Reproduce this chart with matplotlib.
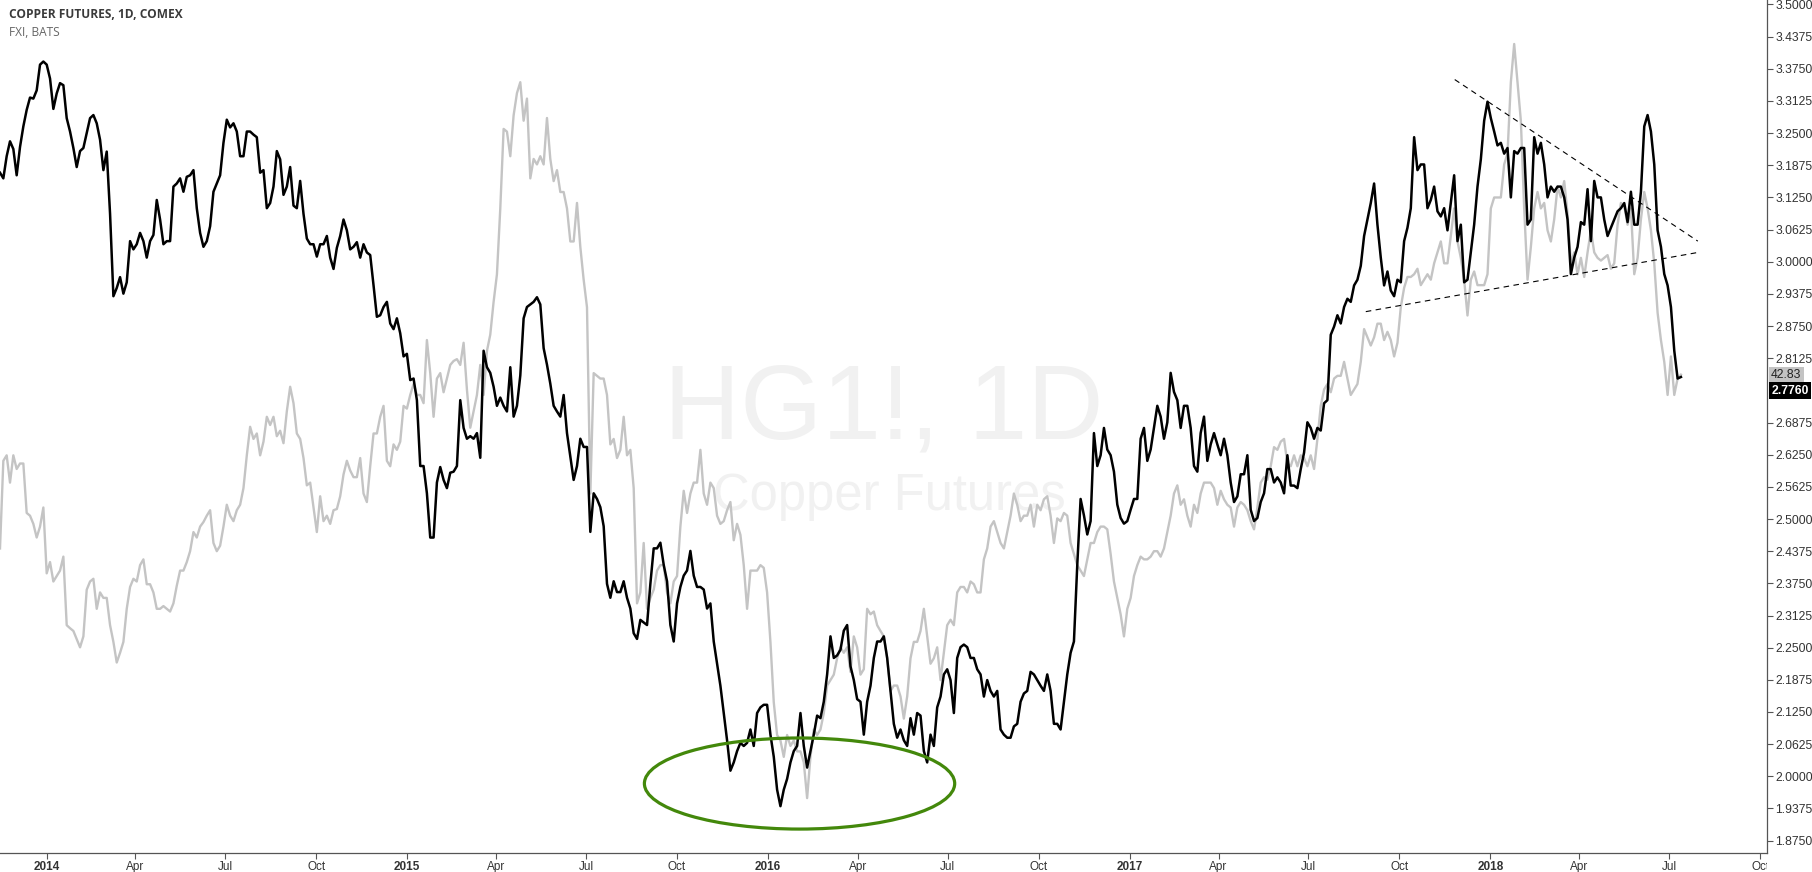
import numpy as np
import pandas as pd
import matplotlib
matplotlib.use("Agg")
import matplotlib.pyplot as plt
import matplotlib.dates as mdates
from matplotlib.patches import Ellipse
from matplotlib.transforms import Bbox, TransformedBbox, blended_transform_factory

plt.rcParams['font.family'] = ['Liberation Sans', 'DejaVu Sans']

# copper futures (HG1!), one value every 81 hours from the left edge of the chart
copper = [
    3.173, 3.162, 3.205, 3.234, 3.219, 3.168, 3.223, 3.263, 3.295, 3.319,
    3.317, 3.333, 3.383, 3.389, 3.383, 3.356, 3.297, 3.327, 3.347, 3.343,
    3.279, 3.253, 3.221, 3.184, 3.215, 3.221, 3.250, 3.279, 3.285, 3.269,
    3.237, 3.178, 3.214, 3.093, 2.933, 2.949, 2.970, 2.938, 2.960, 3.040,
    3.024, 3.034, 3.056, 3.040, 3.008, 3.040, 3.052, 3.120, 3.082, 3.034,
    3.040, 3.040, 3.146, 3.152, 3.162, 3.136, 3.165, 3.168, 3.178, 3.104,
    3.056, 3.029, 3.040, 3.069, 3.136, 3.152, 3.168, 3.231, 3.276, 3.261,
    3.269, 3.253, 3.205, 3.205, 3.253, 3.253, 3.247, 3.242, 3.173, 3.178,
    3.104, 3.114, 3.146, 3.215, 3.199, 3.130, 3.146, 3.184, 3.109, 3.104,
    3.157, 3.093, 3.045, 3.034, 3.034, 3.010, 3.034, 3.034, 3.050, 3.008,
    2.986, 3.027, 3.050, 3.082, 3.061, 3.024, 3.029, 3.038, 3.008, 3.034,
    3.018, 3.013, 2.954, 2.893, 2.896, 2.912, 2.922, 2.880, 2.869, 2.890,
    2.861, 2.816, 2.821, 2.770, 2.773, 2.731, 2.603, 2.603, 2.550, 2.464,
    2.464, 2.571, 2.601, 2.576, 2.560, 2.590, 2.592, 2.603, 2.731, 2.677,
    2.656, 2.661, 2.656, 2.667, 2.619, 2.827, 2.795, 2.784, 2.757, 2.720,
    2.736, 2.720, 2.709, 2.795, 2.699, 2.720, 2.779, 2.890, 2.912, 2.917,
    2.922, 2.931, 2.917, 2.832, 2.800, 2.763, 2.720, 2.709, 2.699, 2.741,
    2.667, 2.622, 2.576, 2.603, 2.656, 2.640, 2.640, 2.475, 2.550, 2.539,
    2.523, 2.486, 2.374, 2.347, 2.379, 2.358, 2.358, 2.379, 2.347, 2.326,
    2.278, 2.267, 2.304, 2.299, 2.294, 2.374, 2.443, 2.443, 2.454, 2.411,
    2.379, 2.294, 2.262, 2.336, 2.368, 2.390, 2.400, 2.438, 2.390, 2.368,
    2.368, 2.363, 2.326, 2.336, 2.262, 2.219, 2.176, 2.123, 2.070, 2.011,
    2.027, 2.049, 2.065, 2.059, 2.065, 2.091, 2.059, 2.123, 2.134, 2.139,
    2.139, 2.081, 2.038, 1.974, 1.942, 1.974, 1.995, 2.027, 2.049, 2.059,
    2.123, 2.059, 2.017, 2.049, 2.081, 2.118, 2.113, 2.145, 2.198, 2.272,
    2.230, 2.235, 2.246, 2.283, 2.294, 2.214, 2.187, 2.150, 2.145, 2.081,
    2.145, 2.176, 2.230, 2.262, 2.262, 2.272, 2.230, 2.166, 2.102, 2.075,
    2.091, 2.070, 2.059, 2.113, 2.081, 2.123, 2.118, 2.049, 2.027, 2.081,
    2.059, 2.134, 2.155, 2.198, 2.208, 2.187, 2.123, 2.230, 2.251, 2.256,
    2.251, 2.230, 2.230, 2.208, 2.198, 2.155, 2.187, 2.166, 2.155, 2.166,
    2.091, 2.081, 2.075, 2.075, 2.097, 2.102, 2.145, 2.161, 2.166, 2.203,
    2.198, 2.187, 2.176, 2.166, 2.198, 2.166, 2.102, 2.102, 2.091, 2.145,
    2.198, 2.240, 2.262, 2.411, 2.539, 2.507, 2.470, 2.496, 2.667, 2.603,
    2.624, 2.677, 2.635, 2.624, 2.592, 2.528, 2.502, 2.491, 2.496, 2.518,
    2.539, 2.539, 2.656, 2.677, 2.613, 2.635, 2.677, 2.720, 2.699, 2.656,
    2.688, 2.784, 2.747, 2.731, 2.677, 2.720, 2.720, 2.677, 2.603, 2.592,
    2.667, 2.699, 2.613, 2.645, 2.667, 2.645, 2.624, 2.656, 2.624, 2.571,
    2.533, 2.544, 2.587, 2.587, 2.624, 2.518, 2.496, 2.502, 2.533, 2.550,
    2.597, 2.597, 2.571, 2.581, 2.571, 2.550, 2.624, 2.565, 2.565, 2.560,
    2.597, 2.629, 2.688, 2.677, 2.656, 2.677, 2.672, 2.725, 2.731, 2.858,
    2.874, 2.896, 2.880, 2.912, 2.928, 2.922, 2.954, 2.965, 2.992, 3.050,
    3.082, 3.114, 3.152, 3.072, 3.008, 2.954, 2.981, 2.944, 2.933, 2.965,
    2.960, 3.040, 3.066, 3.104, 3.242, 3.178, 3.189, 3.189, 3.104, 3.120,
    3.146, 3.098, 3.088, 3.104, 3.061, 3.114, 3.168, 3.040, 3.072, 2.960,
    2.965, 3.018, 3.072, 3.146, 3.199, 3.274, 3.311, 3.279, 3.253, 3.226,
    3.231, 3.210, 3.221, 3.125, 3.215, 3.210, 3.221, 3.221, 3.072, 3.082,
    3.242, 3.210, 3.231, 3.189, 3.125, 3.146, 3.136, 3.146, 3.146, 3.125,
    3.082, 2.976, 3.008, 3.029, 3.077, 3.072, 3.141, 3.040, 3.157, 3.125,
    3.125, 3.082, 3.050, 3.066, 3.082, 3.098, 3.104, 3.114, 3.077, 3.136,
    3.072, 3.072, 3.136, 3.263, 3.285, 3.253, 3.189, 3.061, 3.029, 2.976,
    2.954, 2.912, 2.827, 2.773, 2.776,
]

# FXI (BATS), same spacing
fxi = [
    37.10, 39.99, 40.17, 39.27, 40.17, 39.72, 39.90, 39.90, 38.27, 38.18,
    37.91, 37.46, 37.82, 38.45, 36.28, 36.65, 36.01, 36.19, 36.37, 36.83,
    34.57, 34.47, 34.38, 34.11, 33.84, 34.20, 35.74, 36.01, 36.10, 35.11,
    35.65, 35.47, 35.47, 34.57, 34.02, 33.34, 33.66, 34.02, 35.11, 35.83,
    36.10, 36.01, 36.55, 36.74, 35.92, 35.92, 35.65, 35.11, 35.11, 35.20,
    35.11, 35.02, 35.29, 35.87, 36.37, 36.37, 36.65, 37.01, 37.64, 37.46,
    37.82, 37.97, 38.18, 38.36, 37.28, 37.01, 37.19, 37.82, 38.54, 38.18,
    38.00, 38.36, 38.54, 39.09, 40.17, 41.11, 40.71, 40.89, 40.17, 40.62,
    41.44, 41.17, 41.44, 40.80, 40.98, 40.57, 41.62, 42.43, 41.89, 40.89,
    40.71, 40.08, 39.18, 39.27, 38.45, 37.64, 38.82, 38.00, 38.18, 37.91,
    38.36, 38.40, 38.82, 39.54, 39.99, 39.67, 39.45, 39.45, 40.08, 38.91,
    38.63, 39.81, 40.89, 40.89, 41.44, 41.80, 39.99, 39.81, 40.53, 40.35,
    40.62, 41.80, 41.71, 42.16, 42.52, 42.16, 42.16, 41.89, 43.97, 42.88,
    41.44, 42.70, 42.88, 42.25, 42.70, 43.15, 43.28, 43.34, 43.15, 43.88,
    42.34, 41.08, 41.62, 42.16, 43.15, 42.16, 43.61, 44.15, 45.23, 46.14,
    48.31, 50.93, 50.84, 50.03, 51.38, 52.11, 52.47, 51.20, 51.93, 49.30,
    49.94, 49.76, 50.03, 49.76, 51.29, 49.94, 49.21, 49.57, 48.85, 48.85,
    48.31, 47.22, 47.22, 48.49, 47.04, 45.96, 45.05, 38.91, 42.88, 42.79,
    42.70, 42.70, 42.16, 40.53, 40.71, 40.08, 40.35, 41.44, 40.17, 40.35,
    39.09, 35.29, 35.65, 37.28, 35.11, 35.47, 35.74, 36.37, 36.55, 36.55,
    35.65, 35.29, 36.01, 36.19, 37.82, 39.00, 38.27, 38.91, 39.27, 39.27,
    40.35, 38.91, 38.54, 39.27, 39.09, 38.18, 37.91, 38.00, 38.36, 38.63,
    37.37, 37.91, 37.55, 36.55, 35.11, 36.37, 36.37, 36.37, 36.55, 36.46,
    35.65, 34.02, 32.03, 30.95, 30.77, 30.23, 30.95, 30.59, 30.77, 30.41,
    30.41, 30.05, 28.87, 30.23, 31.13, 30.95, 31.13, 31.67, 32.58, 32.76,
    32.94, 33.48, 33.84, 33.66, 33.84, 33.03, 34.20, 33.84, 32.94, 33.12,
    35.11, 34.93, 35.02, 34.57, 34.38, 34.20, 33.48, 32.40, 32.58, 32.58,
    32.22, 31.49, 32.22, 33.48, 34.02, 34.02, 34.38, 35.11, 34.20, 33.30,
    33.48, 33.84, 32.76, 33.66, 34.57, 34.75, 34.57, 35.65, 35.83, 35.83,
    35.65, 36.01, 35.92, 35.65, 35.65, 36.74, 37.10, 37.82, 38.00, 37.64,
    37.28, 37.10, 37.64, 38.18, 38.91, 38.54, 38.00, 38.18, 38.18, 38.54,
    37.82, 38.54, 38.36, 38.72, 38.82, 38.18, 37.28, 38.09, 38.00, 38.27,
    38.18, 37.28, 36.92, 36.55, 36.37, 36.19, 36.74, 37.28, 37.28, 37.64,
    37.82, 37.82, 37.73, 36.92, 36.01, 35.47, 34.93, 34.20, 35.11, 35.47,
    36.19, 36.55, 36.83, 36.74, 36.74, 36.83, 37.01, 37.01, 36.83, 37.10,
    37.64, 38.18, 38.91, 39.18, 38.54, 38.72, 38.18, 37.82, 38.54, 38.27,
    38.91, 39.27, 39.27, 39.27, 39.09, 38.54, 39.00, 38.72, 38.54, 38.45,
    37.82, 38.45, 38.63, 38.54, 38.36, 38.00, 37.73, 38.45, 39.27, 39.45,
    39.36, 39.81, 40.44, 40.35, 40.62, 40.71, 39.90, 39.81, 40.17, 39.81,
    40.17, 40.08, 39.81, 40.17, 39.72, 40.71, 41.80, 42.34, 42.52, 42.25,
    42.70, 42.79, 42.79, 43.25, 42.70, 42.16, 42.34, 42.52, 43.25, 44.33,
    44.06, 43.79, 44.06, 44.51, 44.51, 43.97, 44.24, 43.97, 43.43, 43.88,
    45.05, 45.69, 46.05, 46.05, 46.14, 46.32, 45.78, 45.96, 46.14, 45.96,
    46.50, 46.86, 47.22, 46.50, 46.50, 47.40, 48.31, 47.22, 46.68, 45.96,
    44.78, 45.96, 46.23, 45.78, 45.78, 45.78, 46.14, 48.31, 48.67, 48.67,
    48.67, 49.76, 50.12, 52.47, 53.73, 52.47, 51.20, 48.31, 45.96, 47.04,
    48.31, 48.85, 48.31, 48.49, 47.59, 47.22, 47.95, 49.03, 48.67, 49.21,
    48.13, 46.50, 46.86, 46.14, 46.68, 46.05, 46.86, 47.59, 46.86, 46.68,
    46.59, 46.68, 46.77, 46.32, 46.50, 47.77, 48.49, 48.40, 47.77, 48.31,
    46.14, 46.68, 47.95, 48.85, 48.31, 47.59, 46.50, 44.87, 43.97, 43.25,
    42.16, 43.43, 42.16, 42.70, 42.83,
]

series_start = "2013-11-14 22:00"
series_step = "81h"
view_start, view_end = "2013-11-14 22:00", "2018-10-08"

# trend lines drawn on the chart: (start date, price) -> (end date, price)
upper_line = [("2017-11-26", 3.354), ("2018-07-30", 3.040)]
lower_line = [("2017-08-28", 2.903), ("2018-07-30", 3.018)]
# highlighted area round the 2016 low
circle_center = ("2016-02-02", 1.986)
circle_days, circle_height = 314, 0.177

last_copper, last_fxi = "2.7760", "42.83"

cu_dates = pd.date_range(series_start, periods=len(copper), freq=series_step)
fx_dates = pd.date_range(series_start, periods=len(fxi), freq=series_step)

W, H = 1812, 872
fig = plt.figure(figsize=(W / 100, H / 100), dpi=100)
ax = fig.add_axes([0, 19 / H, 1767 / W, 853 / H])
ax2 = ax.twinx()

# watermark
ax.text(884 / 1767, (853 - 438) / 853, "HG1!, 1D", transform=ax.transAxes,
        ha="center", va="baseline", fontsize=76, color="#f1f1f1", zorder=0)
ax.text(889 / 1767, (853 - 510) / 853, "Copper Futures", transform=ax.transAxes,
        ha="center", va="baseline", fontsize=36.5, color="#f1f1f1", zorder=0)

ax.plot(fx_dates, fxi, color="#c4c4c4", lw=1.7, zorder=2)
ax2.plot(cu_dates, copper, color="black", lw=1.8, zorder=3)

for line in (upper_line, lower_line):
    xs = [pd.Timestamp(d) for d, _ in line]
    ys = [v for _, v in line]
    ax2.plot(xs, ys, color="black", lw=0.8, linestyle=(0, (5, 4)), zorder=4)

ell = Ellipse((mdates.date2num(pd.Timestamp(circle_center[0])), circle_center[1]),
              width=circle_days, height=circle_height, fill=False,
              edgecolor="#43880b", lw=2.3, zorder=5)
ax2.add_patch(ell)

ax.set_xlim(pd.Timestamp(view_start), pd.Timestamp(view_end))
ax.set_ylim(27.06, 55.18)
ax2.set_ylim(1.8510, 3.5086)

# x axis: quarter ticks, years in bold
ticks = pd.date_range("2014-01-01", "2018-10-01", freq="QS")
labels = [str(t.year) if t.month == 1 else t.strftime("%b") for t in ticks]
ax.set_xticks(ticks)
ax.set_xticklabels(labels)
ax.tick_params(axis="x", direction="out", length=4, width=0.8, color="#555555",
               labelsize=8.5, labelcolor="#333333", pad=2)
clip = TransformedBbox(Bbox([[0, -1], [1, 1]]), ax.transAxes)
for lab in ax.get_xticklabels():
    if lab.get_text()[0].isdigit():
        lab.set_fontweight("bold")
    lab.set_clip_on(True)
    lab.set_clip_box(clip)
ax.yaxis.set_visible(False)

yt = [v for v in np.arange(1.875, 3.5001, 0.0625) if abs(v - 2.75) > 1e-6]
ax2.set_yticks(yt)
ax2.set_yticklabels(["%.4f" % v for v in yt])
ax2.tick_params(axis="y", direction="out", length=4, width=0.8, color="#555555",
                labelsize=8.7, labelcolor="#333333", pad=2)

for s in ("top", "left", "right"):
    ax.spines[s].set_visible(False)
for s in ("top", "left", "bottom"):
    ax2.spines[s].set_visible(False)
ax.spines["bottom"].set_color("#555555")
ax2.spines["right"].set_color("#555555")
ax.spines["bottom"].set_linewidth(0.9)
ax2.spines["right"].set_linewidth(0.9)

# last value tags on the price scale; the copper tag sits just under the FXI tag
tr = blended_transform_factory(ax2.transAxes, ax2.transData)
fxi_tag_level = 2.7798
ax2.annotate(last_fxi, xy=(1, fxi_tag_level), xycoords=tr,
             xytext=(3, 0), textcoords="offset points", ha="left", va="center",
             fontsize=8.7, color="#222222", annotation_clip=False,
             bbox=dict(boxstyle="square,pad=0.2", fc="#c3c3c3", ec="none"))
ax2.annotate(last_copper, xy=(1, float(last_copper)), xycoords=tr,
             xytext=(3, -10), textcoords="offset points", ha="left", va="center",
             fontsize=8.7, color="white", fontweight="bold", annotation_clip=False,
             bbox=dict(boxstyle="square,pad=0.2", fc="black", ec="none"))

# legend texts top left
fig.text(9 / W, 1 - 15 / H, "COPPER FUTURES, 1D, COMEX", ha="left", va="center",
         fontsize=8.6, fontweight="bold", color="#3a3a3a",
         family=["Open Sans", "DejaVu Sans"])
fig.text(9 / W, 1 - 32 / H, "FXI, BATS", ha="left", va="center",
         fontsize=8.6, color="#666666", family=["Open Sans", "DejaVu Sans"])

fig.savefig("out.png", dpi=100)
